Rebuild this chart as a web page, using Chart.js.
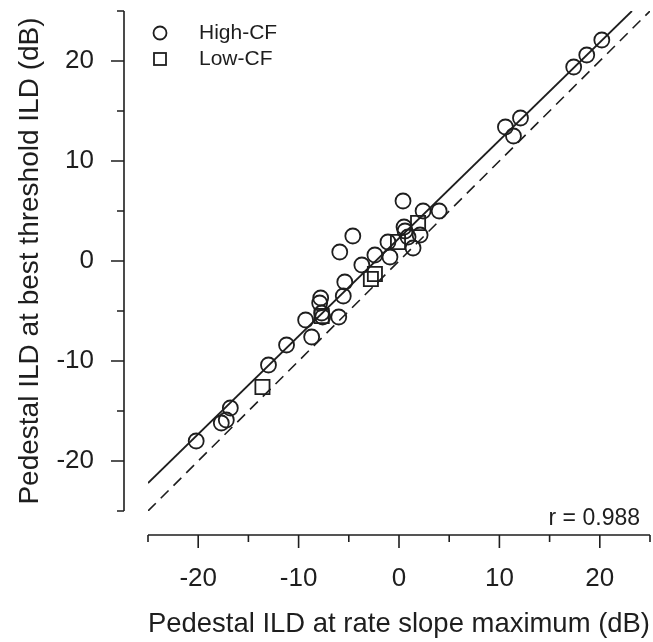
<!DOCTYPE html>
<html>
<head>
<meta charset="utf-8">
<script src="https://cdn.jsdelivr.net/npm/chart.js@4.4.0/dist/chart.umd.min.js"></script>
<style>
  body { margin: 0; background: #fff; }
  canvas { display: block; }
</style>
</head>
<body>
<canvas id="ildChart" width="653" height="642"></canvas>
<script>
// values (dB)
var highX = [20.2, 18.7, 17.4, 12.1, 10.6, 11.4, 0.4, 2.4, 4.0, -4.6, -5.9, 0.6, 0.5, 0.9, 2.1, 1.4,
             -1.1, -2.4, -0.9, -3.7, -5.4, -5.55, -6.0, -7.8, -7.9, -7.7, -7.6, -9.3, -8.7, -11.2,
             -13.0, -16.8, -17.2, -17.7, -20.2];
var highY = [22.1, 20.6, 19.4, 14.3, 13.4, 12.5, 6.0, 5.0, 5.0, 2.5, 0.9, 3.0, 3.4, 2.4, 2.6, 1.3,
             1.9, 0.6, 0.4, -0.4, -2.1, -3.5, -5.6, -3.7, -4.2, -5.2, -5.6, -5.9, -7.6, -8.4,
             -10.4, -14.7, -15.9, -16.2, -18.0];
var lowX = [-13.6, -7.7, -2.8, -2.4, -0.1, 1.9];
var lowY = [-12.6, -5.5, -1.8, -1.3, 1.9, 3.8];
var fitX = [-25, 23.2];
var fitY = [-22.2, 25];
var unityX = [-25, 25];
var unityY = [-25, 25];
var tickValues = [-25, -20, -15, -10, -5, 0, 5, 10, 15, 20, 25];
var labelValues = [-20, -10, 0, 10, 20];

function pairs(xs, ys) {
  var out = [];
  for (var i = 0; i < xs.length; i++) out.push({ x: xs[i], y: ys[i] });
  return out;
}

var ink = '#1e1e1e';
var fontName = '"Liberation Sans", Arial, Helvetica, sans-serif';

// R-style detached axes, legend and r value
var extras = {
  id: 'extras',
  afterDraw: function(chart) {
    var ctx = chart.ctx;
    var xs = chart.scales.x, ys = chart.scales.y;
    var axX = 124, axY = 535;
    ctx.save();
    ctx.strokeStyle = ink;
    ctx.lineWidth = 1.6;
    ctx.beginPath();
    ctx.moveTo(axX, ys.getPixelForValue(25));
    ctx.lineTo(axX, ys.getPixelForValue(-25));
    ctx.moveTo(xs.getPixelForValue(-25), axY);
    ctx.lineTo(xs.getPixelForValue(25), axY);
    tickValues.forEach(function(v) {
      var len = (v % 10 === 0) ? 13 : 7;
      var py = ys.getPixelForValue(v);
      ctx.moveTo(axX, py);
      ctx.lineTo(axX - len, py);
      var px = xs.getPixelForValue(v);
      ctx.moveTo(px, axY);
      ctx.lineTo(px, axY + len);
    });
    ctx.stroke();

    // legend
    ctx.lineWidth = 1.8;
    ctx.beginPath();
    ctx.arc(160, 33, 6.5, 0, Math.PI * 2);
    ctx.stroke();
    ctx.strokeRect(154, 53, 12, 12);
    ctx.fillStyle = ink;
    ctx.font = '21px ' + fontName;
    ctx.textBaseline = 'middle';
    ctx.textAlign = 'left';
    ctx.fillText('High-CF', 199, 33);
    ctx.fillText('Low-CF', 199, 59);

    ctx.font = '23px ' + fontName;
    ctx.textAlign = 'right';
    ctx.fillText('r = 0.988', 640, 519);
    ctx.restore();
  }
};

var ctx = document.getElementById('ildChart').getContext('2d');
var chart = new Chart(ctx, {
  type: 'scatter',
  data: {
    datasets: [{
      label: 'High-CF',
      data: pairs(highX, highY),
      pointStyle: 'circle',
      pointRadius: 7.5,
      pointBorderWidth: 1.8,
      borderColor: ink,
      backgroundColor: 'rgba(0,0,0,0)'
    }, {
      label: 'Low-CF',
      data: pairs(lowX, lowY),
      pointStyle: 'rect',
      pointRadius: 10,
      pointBorderWidth: 1.8,
      borderColor: ink,
      backgroundColor: 'rgba(0,0,0,0)'
    }, {
      label: 'fit',
      data: pairs(fitX, fitY),
      showLine: true,
      pointRadius: 0,
      borderWidth: 1.8,
      borderColor: ink
    }, {
      label: 'unity',
      data: pairs(unityX, unityY),
      showLine: true,
      pointRadius: 0,
      borderWidth: 1.6,
      borderDash: [11, 7],
      borderColor: ink
    }]
  },
  options: {
    responsive: false,
    animation: false,
    layout: { autoPadding: false, padding: { top: 11, right: 3, left: 0, bottom: 0 } },
    plugins: { legend: { display: false }, tooltip: { enabled: false } },
    scales: {
      x: {
        type: 'linear',
        min: -25, max: 25,
        grid: { display: false, drawTicks: false },
        border: { display: false },
        afterBuildTicks: function(s) { s.ticks = labelValues.map(function(v) { return { value: v }; }); },
        afterFit: function(s) { s.height = 131; s.paddingLeft = 0; s.paddingRight = 0; },
        ticks: { padding: 52, color: ink, font: { family: fontName, size: 26 } },
        title: { display: true, text: 'Pedestal ILD at rate slope maximum (dB)', color: ink,
                 padding: { top: 0, bottom: 1 }, font: { family: fontName, size: 28 } }
      },
      y: {
        type: 'linear',
        min: -25, max: 25,
        grid: { display: false, drawTicks: false },
        border: { display: false },
        afterBuildTicks: function(s) { s.ticks = labelValues.map(function(v) { return { value: v }; }); },
        afterFit: function(s) { s.width = 148; s.paddingTop = 0; s.paddingBottom = 0; },
        ticks: { padding: 54, color: ink, font: { family: fontName, size: 26 } },
        title: { display: true, text: 'Pedestal ILD at best threshold ILD (dB)', color: ink,
                 padding: { top: 13, bottom: 0 }, font: { family: fontName, size: 28 } }
      }
    }
  },
  plugins: [extras]
});
</script>
</body>
</html>
